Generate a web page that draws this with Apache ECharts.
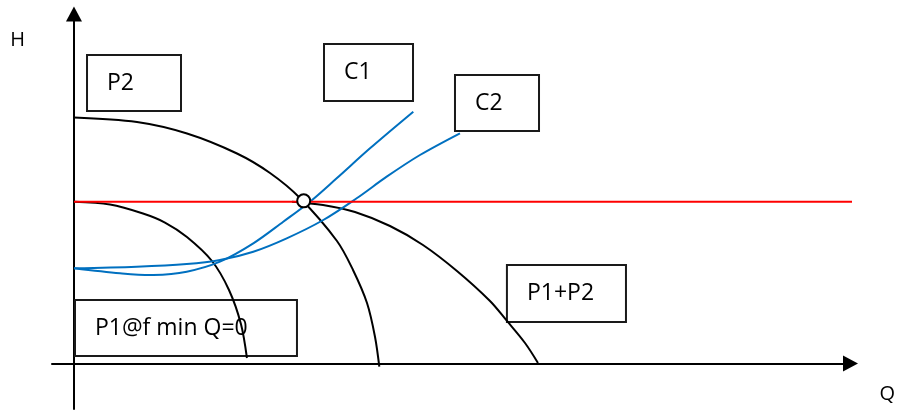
<!DOCTYPE html>
<html><head><meta charset="utf-8">
<script src="https://cdn.jsdelivr.net/npm/echarts@6/dist/echarts.min.js"></script>
<style>html,body{margin:0;padding:0;background:#fff}#chart{width:899px;height:414px}</style>
</head><body><div id="chart"></div>
<script>
// Pump curves (Q, H)
const p2Curve = [[0,70.39],[8.60,69.10],[15.43,65.81],[22.25,60.09],[26.76,54.51],[30.85,47.36],[35.9,35.06],[38.09,26.77],[40.0,17.32],[41.09,7.68],[41.68,-0.9]];
const p1Curve = [[0,46.3],[4.92,45.5],[9.42,42.93],[12.42,40.35],[15.42,36.21],[18.84,29.34],[21.16,21.04],[22.79,11.32],[23.61,1.59]];
const p1p2Curve = [[29.76,46.3],[34.0,45.36],[38.36,43.36],[43.14,39.35],[47.64,33.92],[52.28,26.48],[56.79,17.9],[59.11,12.18],[61.57,5.88],[63.34,0.16]];
// System curves
const c1Curve = [[0,27.25],[6.28,25.82],[10.83,25.33],[15.39,26.28],[19.93,29.14],[24.48,34.4],[28.57,40.58],[32.22,46.3],[35.86,53.0],[40.41,61.58],[46.32,72.05]];
const c2Curve = [[0,27.25],[8.56,27.71],[15.39,28.48],[19.93,29.63],[24.48,32.0],[29.04,35.83],[34.03,41.07],[38.59,47.28],[42.69,53.46],[47.23,59.66],[52.69,65.87]];
// Set-point line and operating point
const setPointLine = [[0,46.3],[107.3,46.3]];
const operatingPoint = [[31.36,46.55]];
// Annotation labels
const boxLabels = ['P2','C1','C2','P1@f min Q=0','P1+P2'];

// box corners (Q1,H1,Q2,H2) for each annotation
const boxCorners = [
  [1.78, 88.27, 14.61, 72.25],
  [34.13, 91.42, 46.28, 75.11],
  [52.01, 82.55, 63.48, 66.53],
  [0.14, 18.18, 30.44, 2.16],
  [59.10, 28.20, 75.35, 11.89]
];

const FONT = 'Open Sans';
const chart = echarts.init(document.getElementById('chart'), null, {renderer:'canvas'});

// smooth curve through the data points, positioned by the cartesian axes (api.coord)
function curve(points, color) {
  return {
    type:'custom', coordinateSystem:'cartesian2d', data:points, clip:false, silent:true, z:2,
    encode:{x:0, y:1},
    renderItem(params, api) {
      if (params.dataIndex !== 0) return null;
      const pts = points.map(p => api.coord(p));
      return {type:'polyline', shape:{points:pts, smooth:0.33},
        style:{stroke:color, lineWidth:2, fill:'none'}};
    }
  };
}

const redSeries = {type:'line', data:setPointLine, smooth:false, showSymbol:false, clip:false, silent:true,
  lineStyle:{color:'#FF0000', width:2}, z:2,
  markArea:{
    silent:true,
    itemStyle:{color:'rgba(0,0,0,0)', borderColor:'#1a1a1a', borderWidth:2},
    label:{show:true, position:[21,'50%'], align:'left', verticalAlign:'middle',
      fontFamily:FONT, fontSize:23, color:'#000'},
    emphasis:{disabled:true},
    data: boxLabels.map((name,i)=>[
      {name, coord:[boxCorners[i][0], boxCorners[i][1]]},
      {coord:[boxCorners[i][2], boxCorners[i][3]]}
    ])
  }
};

const option = {
  animation:false,
  backgroundColor:'#fff',
  grid:{left:52, right:48.5, top:14, bottom:5, outerBoundsMode:'none', containLabel:false},
  xAxis:{type:'value', min:-3, max:106, name:'Q', nameLocation:'end', nameGap:0,
    nameTextStyle:{fontFamily:FONT, fontSize:20, color:'#000', align:'left', verticalAlign:'top', padding:[21,0,0,29]},
    axisLine:{show:true, onZero:true, symbol:['none','triangle'], symbolSize:[16,15], lineStyle:{color:'#000', width:2}},
    axisTick:{show:false}, axisLabel:{show:false}, splitLine:{show:false}},
  yAxis:{type:'value', min:-13, max:100, name:'H', nameLocation:'end', nameGap:0,
    nameTextStyle:{fontFamily:FONT, fontSize:20, color:'#000', align:'right', verticalAlign:'top', padding:[16,49,0,0]},
    axisLine:{show:true, onZero:true, symbol:['none','triangle'], symbolSize:[16,15], lineStyle:{color:'#000', width:2}},
    axisTick:{show:false}, axisLabel:{show:false}, splitLine:{show:false}},
  series:[
    redSeries,
    curve(p2Curve, '#000'),
    curve(p1Curve, '#000'),
    curve(p1p2Curve, '#000'),
    curve(c1Curve, '#0070C0'),
    curve(c2Curve, '#0070C0'),
    {type:'scatter', silent:true, z:6, data:operatingPoint, symbol:'circle', symbolSize:13,
      itemStyle:{color:'#fff', borderColor:'#000', borderWidth:2, opacity:1}}
  ]
};
chart.setOption(option);
</script>
</body></html>
